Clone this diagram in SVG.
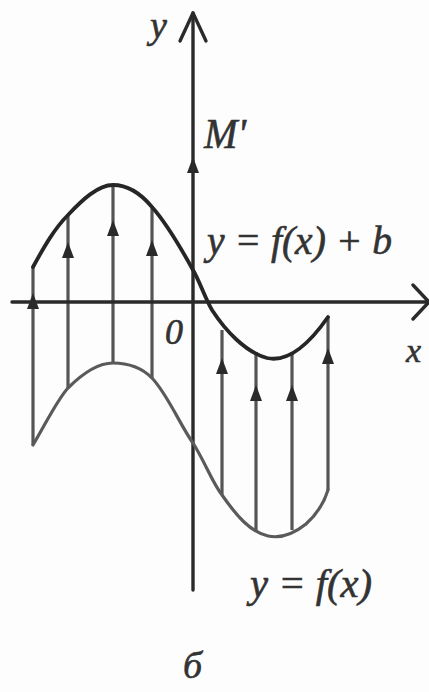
<svg xmlns="http://www.w3.org/2000/svg" width="429" height="692" viewBox="0 0 429 692">
<style>
.axis{stroke:#2a2a2a;stroke-width:3.4;fill:none;stroke-linecap:round;stroke-linejoin:round}
.vl{stroke:#555;stroke-width:3.2;fill:none}
.cu{stroke:#262626;stroke-width:3.8;fill:none;stroke-linecap:round}
.cl{stroke:#5a5a5a;stroke-width:3.2;fill:none;stroke-linecap:round}
.lbl{font-family:"Liberation Serif","DejaVu Serif",serif;font-style:italic;fill:#333;stroke:#333;stroke-width:0.6}
.ah{fill:#2a2a2a}
</style>
<defs>
<path id="ah" d="M0,0 L-6,16 L6,16 Z"/>
</defs>
<rect width="429" height="692" fill="#fdfdfd"/>
<g id="connectors">
<g id="vertical-lines">
<line class="vl" x1="33" y1="267" x2="33" y2="445"/>
<line class="vl" x1="68" y1="215" x2="68" y2="388"/>
<line class="vl" x1="113" y1="185" x2="113" y2="363"/>
<line class="vl" x1="152" y1="207" x2="152" y2="378"/>
<line class="vl" x1="222" y1="330" x2="222" y2="495"/>
<line class="vl" x1="256" y1="352" x2="256" y2="532"/>
<line class="vl" x1="292" y1="354" x2="292" y2="530"/>
<line class="vl" x1="328" y1="317" x2="328" y2="490"/>
</g>
<g id="arrowheads">
<use href="#ah" class="ah" x="33" y="293"/>
<use href="#ah" class="ah" x="68" y="242"/>
<use href="#ah" class="ah" x="113" y="220"/>
<use href="#ah" class="ah" x="152" y="240"/>
<use href="#ah" class="ah" x="193" y="157"/>
<use href="#ah" class="ah" x="222" y="358"/>
<use href="#ah" class="ah" x="256" y="385"/>
<use href="#ah" class="ah" x="292" y="385"/>
<use href="#ah" class="ah" x="328" y="348"/>
</g>
</g>
<g id="axes">
<line class="axis" x1="193" y1="13" x2="193" y2="590"/>
<polyline class="axis" points="180,41 193,13 206,41" stroke-width="4.5"/>
<line class="axis" x1="12" y1="302" x2="428" y2="302"/>
<polyline class="axis" points="413,285 429,302 413,319" stroke-width="3.8"/>
</g>
<g id="curve-shifted">
<path class="cu" d="M33,267 C45,245 55,228 68,215 C82,200 98,185 113,185 C128,185 142,195 152,207 C168,225 182,250 193,270 C200,282 205,298 212,310 C225,330 245,352 267,358 C285,362 305,350 328,317"/>
</g>
<g id="curve-original">
<path class="cl" d="M33,445 C45,425 57,400 68,388 C84,372 100,363 113,363 C130,363 142,368 152,378 C168,395 180,425 193,443 C205,462 212,482 222,495 C236,515 250,532 268,536 C282,539 296,532 306,524 C316,515 324,503 328,490"/>
</g>
<g id="labels">
<text class="lbl" x="150" y="38" font-size="38">y</text>
<text class="lbl" x="204" y="148" font-size="42" textLength="42" lengthAdjust="spacingAndGlyphs">M'</text>
<text class="lbl" x="207" y="254" font-size="40" textLength="185" lengthAdjust="spacingAndGlyphs">y = f(x) + b</text>
<text class="lbl" x="165" y="344" font-size="36">0</text>
<text class="lbl" x="406" y="362" font-size="34">x</text>
<text class="lbl" x="250" y="597" font-size="40" textLength="122" lengthAdjust="spacingAndGlyphs">y = f(x)</text>
<text class="lbl" x="183" y="678" font-size="38">б</text>
</g>
</svg>
